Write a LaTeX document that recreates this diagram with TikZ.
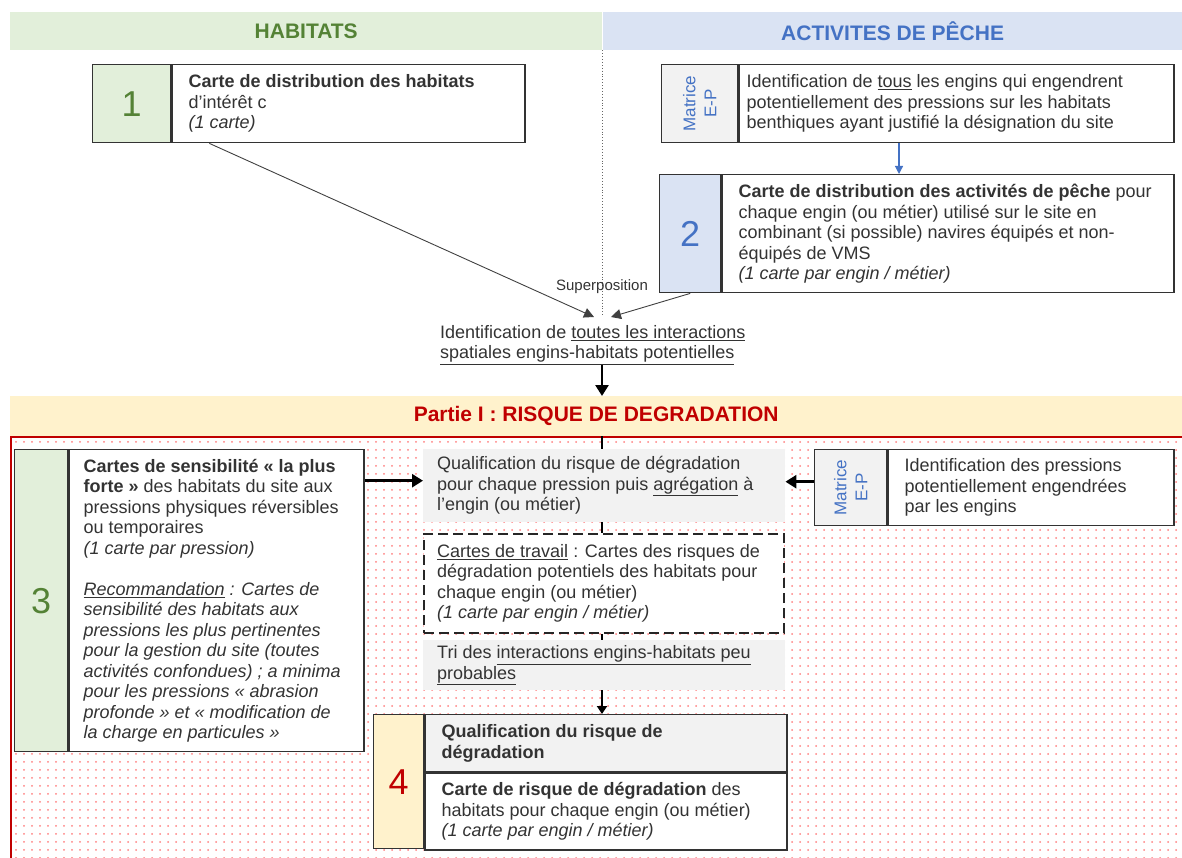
\documentclass[tikz,border=0pt]{standalone}
\usepackage{fontspec}
\setmainfont{Liberation Sans}
\usetikzlibrary{positioning,arrows.meta,patterns.meta}
\definecolor{hgreen}{HTML}{E2EFDA}
\definecolor{dgreen}{HTML}{548235}
\definecolor{hblue}{HTML}{DAE3F3}
\definecolor{dblue}{HTML}{4472C4}
\definecolor{hyell}{HTML}{FFF2CC}
\definecolor{dred}{HTML}{C00000}
\definecolor{lgray}{HTML}{F2F2F2}
\definecolor{ink}{HTML}{333333}

\tikzset{
  band/.style={anchor=north west, minimum height=38pt, inner sep=0pt, font=\fontsize{21}{24}\selectfont\bfseries},
  numbox/.style={draw=black!80, line width=1.4pt, anchor=north west, inner sep=0pt, font=\fontsize{36}{40}\selectfont},
  frame/.style={draw=black!80, line width=1.4pt, fill=white, inner sep=0pt},
  panel/.style={anchor=north west, fill=lgray, inner sep=0pt},
  body/.style={anchor=west, align=left, inner sep=0pt, text=ink, font=\fontsize{18}{20.5}\selectfont},
  matlab/.style={rotate=90, align=center, text=dblue, inner sep=0pt, font=\fontsize{17}{21}\selectfont},
  thin arr/.style={draw=black!75, line width=0.9pt, -{Triangle[length=10pt,width=10pt]}},
  big arr/.style={line width=2.6pt, -{Triangle[length=11pt,width=13pt]}},
  stub/.style={line width=2.4pt},
}

\begin{document}
\begin{tikzpicture}[x=1pt,y=-1pt]
\useasboundingbox (0,0) rectangle (1182,858);

% zone partie I
\fill[pattern={Dots[distance=8pt,radius=1pt]}, pattern color=red!50] (10,437) rectangle (1182,858);
\draw[dred, line width=1.5pt] (1182,437) -- (11,437) -- (11,858);

% headers
\node[band, fill=hgreen, text=dgreen, minimum width=592pt] (hab) at (10,12) {HABITATS};
\node[band, fill=hblue, text=dblue, minimum width=580pt, right=0pt of hab] (peche) {ACTIVITES DE PÊCHE};
\coordinate (axis) at (602,0);
\coordinate (bluex) at (899,0);
\coordinate (sup1) at (594,317);
\coordinate (sup2) at (611,317);

% etape 1
\node[numbox, fill=hgreen, text=dgreen, minimum width=78pt, minimum height=78pt] (n1) at (92,64) {1};
\node[frame, right=0pt of n1, minimum width=353pt, minimum height=78pt] (f1) {};
\node[body] (t1) at ([xshift=17pt]f1.west) {\textbf{Carte de distribution des habitats}\\d’intérêt c\\\textit{(1 carte)}};

% matrice engins
\node[numbox, fill=lgray, minimum width=76pt, minimum height=78pt] (m1) at (661,64) {};
\node[matlab] at (m1) {Matrice\\E-P};
\node[frame, right=0pt of m1, minimum width=435pt, minimum height=78pt] (fm1) {};
\node[body] (tm1) at ([xshift=8pt]fm1.west) {Identification de \underline{tous} les engins qui engendrent\\potentiellement des pressions sur les habitats\\benthiques ayant justifié la désignation du site};

% etape 2
\node[numbox, fill=hblue, text=dblue, minimum width=61pt, minimum height=118pt] (n2) at (659,174) {2};
\node[frame, right=0pt of n2, minimum width=452pt, minimum height=118pt] (f2) {};
\node[body] (t2) at ([xshift=17pt]f2.west) {\textbf{Carte de distribution des activités de pêche} pour\\chaque engin (ou métier) utilisé sur le site en\\combinant (si possible) navires équipés et non-\\équipés de VMS\\\textit{(1 carte par engin / métier)}};
\draw[dblue, line width=1.2pt, -{Triangle[length=8pt,width=8pt]}] (fm1.south -| bluex) -- (f2.north -| bluex);

% superposition
\draw[black!60, dotted, line width=0.9pt] (hab.south east) -- (hab.south east |- sup1);
\node[text=ink, font=\fontsize{15}{17}\selectfont] (supl) at (602,287) {Superposition};
\draw[thin arr] ([xshift=38pt]f1.south west) -- (sup1);
\draw[thin arr] (n2.south) -- (sup2);
\node[body] (ident) at (440,345) {Identification de \underline{toutes les interactions}\\\underline{spatiales engins-habitats potentielles}};

% partie I
\node[band, fill=hyell, text=dred, minimum width=1172pt, minimum height=40pt] (partie) at (10,396) {Partie I : RISQUE DE DEGRADATION};
\draw[big arr] (ident.south -| axis) -- (partie.north -| axis);

% etape 3
\node[numbox, fill=hgreen, text=dgreen, minimum width=53pt, minimum height=302pt] (n3) at (14,449) {3};
\node[frame, right=0pt of n3, minimum width=295pt, minimum height=302pt] (f3) {};
\node[body] (t3) at ([xshift=15pt]f3.west) {\textbf{Cartes de sensibilité «~la plus}\\\textbf{forte~»} des habitats du site aux\\pressions physiques réversibles\\ou temporaires\\\textit{(1 carte par pression)}\\[20.5pt]
\textit{\underline{Recommandation} : Cartes de}\\\textit{sensibilité des habitats aux}\\\textit{pressions les plus pertinentes}\\\textit{pour la gestion du site (toutes}\\\textit{activités confondues) ; a minima}\\\textit{pour les pressions «~abrasion}\\\textit{profonde~» et «~modification de}\\\textit{la charge en particules~»}};

% qualification
\node[panel, minimum width=362pt, minimum height=73pt] (qual) at (423,449) {};
\node[body] (tq) at ([xshift=14pt]qual.west) {Qualification du risque de dégradation\\pour chaque pression puis \underline{agrégation} à\\l’engin (ou métier)};

% matrice pressions
\node[numbox, fill=lgray, minimum width=72pt, minimum height=76pt] (m2) at (814,449) {};
\node[matlab] at (m2) {Matrice\\E-P};
\node[frame, right=0pt of m2, minimum width=286pt, minimum height=76pt] (fm2) {};
\node[body] (tm2) at ([xshift=17pt]fm2.west) {Identification des pressions\\potentiellement engendrées\\par les engins};

\draw[big arr] ([yshift=5pt]f3.east |- qual.west) -- ([yshift=5pt]qual.west);
\draw[big arr] ([yshift=6pt]m2.west) -- ([yshift=6pt]qual.east |- m2.west);

% cartes de travail
\node[anchor=north west, draw=black!85, fill=white, line width=2pt, dash pattern=on 10pt off 5pt, minimum width=360pt, minimum height=99pt, inner sep=0pt] (work) at (423,533) {};
\node[body] (tw) at ([xshift=14pt]work.west) {\underline{Cartes de travail} : Cartes des risques de\\dégradation potentiels des habitats pour\\chaque engin (ou métier)\\\textit{(1 carte par engin / métier)}};

% tri
\node[panel, minimum width=362pt, minimum height=50pt] (tri) at (423,640) {};
\node[body] (tt) at ([xshift=14pt]tri.west) {Tri des \underline{interactions engins-habitats peu}\\\underline{probables}};

\draw[stub] (partie.south -| axis) -- (qual.north -| axis);
\draw[stub] (qual.south -| axis) -- (work.north -| axis);
\draw[stub] (work.south -| axis) -- (tri.north -| axis);

% etape 4
\node[numbox, fill=hyell, text=dred, minimum width=50pt, minimum height=134pt] (n4) at (373,714) {4};
\node[frame, fill=lgray, anchor=north west, minimum width=362pt, minimum height=57pt] (q4) at (n4.north east) {};
\node[frame, anchor=north west, minimum width=362pt, minimum height=77pt] (r4) at (q4.south west) {};
\node[body] (tq4) at ([xshift=17pt]q4.west) {\textbf{Qualification du risque de}\\\textbf{dégradation}};
\node[body] (tr4) at ([xshift=17pt]r4.west) {\textbf{Carte de risque de dégradation} des\\habitats pour chaque engin (ou métier)\\\textit{(1 carte par engin / métier)}};
\draw[line width=2pt, -{Triangle[length=8pt,width=10pt]}] (tri.south -| axis) -- (q4.north -| axis);
\end{tikzpicture}
\end{document}
